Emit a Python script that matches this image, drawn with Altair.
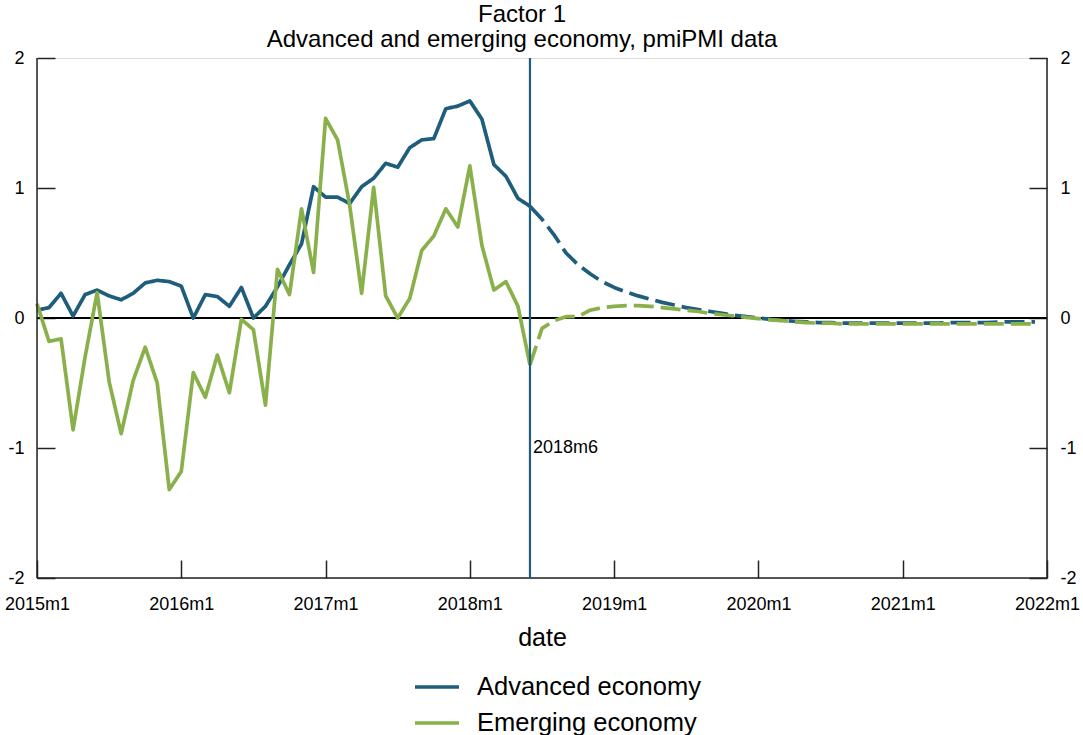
import altair as alt
import pandas as pd

# Months counted from 2015m1 (0) to 2022m1 (84)
months_actual = list(range(0, 42))      # 2015m1 .. 2018m6
months_forecast = list(range(41, 84))   # 2018m6 .. 2021m12

advanced_actual = [
    0.06, 0.08, 0.19, 0.015, 0.18, 0.215, 0.17, 0.14, 0.19, 0.27,
    0.29, 0.28, 0.245, 0.0, 0.18, 0.165, 0.09, 0.235, 0.0, 0.09,
    0.24, 0.41, 0.57, 1.01, 0.93, 0.93, 0.88, 1.01, 1.075, 1.19,
    1.16, 1.31, 1.37, 1.38, 1.61, 1.63, 1.67, 1.53, 1.18, 1.09,
    0.92, 0.86,
]
emerging_actual = [
    0.11, -0.18, -0.16, -0.86, -0.30, 0.195, -0.49, -0.89, -0.48, -0.225,
    -0.50, -1.32, -1.18, -0.42, -0.61, -0.285, -0.575, -0.01, -0.09, -0.67,
    0.375, 0.18, 0.84, 0.35, 1.535, 1.37, 0.87, 0.19, 1.005, 0.17,
    0.0, 0.15, 0.52, 0.63, 0.84, 0.70, 1.17, 0.56, 0.215, 0.28,
    0.09, -0.36,
]
advanced_forecast = [
    0.86, 0.76, 0.64, 0.50, 0.41, 0.34, 0.28, 0.235, 0.20, 0.17,
    0.145, 0.12, 0.10, 0.08, 0.065, 0.05, 0.035, 0.02, 0.01, 0.0,
    -0.01, -0.02, -0.025, -0.03, -0.035, -0.035, -0.04, -0.04, -0.04, -0.04,
    -0.04, -0.04, -0.04, -0.04, -0.04, -0.035, -0.035, -0.035, -0.035, -0.03,
    -0.03, -0.03, -0.03,
]
emerging_forecast = [
    -0.36, -0.08, -0.02, 0.01, 0.01, 0.06, 0.08, 0.09, 0.095, 0.095,
    0.09, 0.08, 0.07, 0.06, 0.05, 0.035, 0.025, 0.015, 0.005, -0.005,
    -0.015, -0.02, -0.03, -0.035, -0.04, -0.04, -0.045, -0.045, -0.045, -0.045,
    -0.045, -0.045, -0.045, -0.045, -0.045, -0.045, -0.045, -0.045, -0.045, -0.045,
    -0.045, -0.045, -0.045,
]

series_names = ["Advanced economy", "Emerging economy"]
series_colors = ["#1f5d7d", "#89b04a"]
segments = ["actual", "forecast"]
year_ticks = [0, 12, 24, 36, 48, 60, 72, 84]
y_ticks = [-2, -1, 0, 1, 2]
x_range = [0, 84]
y_range = [-2, 2]
cutoff_month = 41
cutoff_label = "2018m6"

FONT = "Liberation Sans"
INK = "#222222"

rows = []
for name, seg, months, values in [
    (series_names[0], segments[0], months_actual, advanced_actual),
    (series_names[0], segments[1], months_forecast, advanced_forecast),
    (series_names[1], segments[0], months_actual, emerging_actual),
    (series_names[1], segments[1], months_forecast, emerging_forecast),
]:
    for m, v in zip(months, values):
        rows.append({"month": m, "value": v, "series": name, "segment": seg})
df = pd.DataFrame(rows)

x_scale = alt.Scale(domain=x_range, nice=False, zero=False)
y_scale = alt.Scale(domain=y_range, nice=False, zero=False)

x_axis = alt.Axis(
    values=year_ticks,
    labelExpr="(2015 + datum.value / 12) + 'm1'",
    offset=-18, tickSize=18, tickWidth=1.5, tickColor=INK,
    domain=False, grid=False,
    labelPadding=17, labelFontSize=18, labelFont=FONT, labelColor="black",
    labelFlush=False, labelOverlap=False, labelBound=False,
    title="date", titleFontSize=25, titleFont=FONT, titleFontWeight="normal",
    titleColor="black", titleBaseline="alphabetic", titleY=85,
)


def y_axis(orient):
    return alt.Axis(
        orient=orient, values=y_ticks,
        labelExpr="datum.value < 0 ? '-' + abs(datum.value) : '' + datum.value",
        offset=-18, tickSize=18, tickWidth=1.5, tickColor=INK,
        domain=False, grid=False,
        labelPadding=13, labelFontSize=18, labelFont=FONT, labelColor="black",
        labelFlush=False, labelOverlap=False,
        title=None,
    )


lines = alt.Chart(df).mark_line(strokeWidth=3.7, strokeCap="butt", strokeJoin="round").encode(
    x=alt.X("month:Q", scale=x_scale, axis=x_axis),
    y=alt.Y("value:Q", scale=y_scale, axis=y_axis("left")),
    color=alt.Color(
        "series:N",
        scale=alt.Scale(domain=series_names, range=series_colors),
        legend=alt.Legend(
            orient="none", legendX=376, legendY=616.5, direction="vertical",
            title=None, padding=0,
            symbolType="stroke", symbolSize=1936, symbolStrokeWidth=3.5, symbolOpacity=1,
            labelFontSize=25.5, labelFont=FONT, labelColor="black", labelOffset=16,
            labelLimit=0, clipHeight=25, rowPadding=10,
        ),
    ),
    strokeDash=alt.StrokeDash(
        "segment:N",
        scale=alt.Scale(domain=segments, range=[[1, 0], [20, 7]]),
        legend=None,
    ),
)

# Frame: left and right axis lines, plus the bottom line
frame_df = pd.DataFrame({"month": x_range, "lo": [y_range[0]] * 2, "hi": [y_range[1]] * 2})
frame_sides = alt.Chart(frame_df).mark_rule(color=INK, strokeWidth=1.5).encode(
    x=alt.X("month:Q", scale=x_scale, axis=x_axis),
    y=alt.Y("lo:Q", scale=y_scale, axis=y_axis("right")),
    y2="hi:Q",
)

bottom_df = pd.DataFrame({"x0": [x_range[0]], "x1": [x_range[1]], "y": [y_range[0]]})
frame_bottom = alt.Chart(bottom_df).mark_rule(color=INK, strokeWidth=1.5).encode(
    x=alt.X("x0:Q", scale=x_scale, axis=x_axis),
    x2="x1:Q",
    y=alt.Y("y:Q", scale=y_scale, axis=None),
)

zero_df = pd.DataFrame({"x0": [x_range[0]], "x1": [x_range[1]], "y": [0]})
zero_line = alt.Chart(zero_df).mark_rule(color="black", strokeWidth=2.2).encode(
    x=alt.X("x0:Q", scale=x_scale, axis=x_axis),
    x2="x1:Q",
    y=alt.Y("y:Q", scale=y_scale, axis=None),
)

cut_df = pd.DataFrame({"month": [cutoff_month], "lo": [y_range[0]], "hi": [y_range[1]],
                       "ly": [-1], "label": [cutoff_label]})
cut_line = alt.Chart(cut_df).mark_rule(color=series_colors[0], strokeWidth=2.2).encode(
    x=alt.X("month:Q", scale=x_scale, axis=x_axis),
    y=alt.Y("lo:Q", scale=y_scale, axis=None),
    y2="hi:Q",
)
cut_text = alt.Chart(cut_df).mark_text(
    align="left", baseline="middle", dx=3, fontSize=18, font=FONT, color="black"
).encode(
    x=alt.X("month:Q", scale=x_scale, axis=x_axis),
    y=alt.Y("ly:Q", scale=y_scale, axis=None),
    text="label:N",
)

chart = alt.layer(
    zero_line, lines, frame_sides, frame_bottom, cut_line, cut_text
).resolve_scale(
    y="independent"
).resolve_axis(
    y="independent"
).properties(
    width=1010,
    height=520,
    autosize=alt.AutoSizeParams(type="none"),
    padding={"left": 37, "top": 58, "right": 36, "bottom": 157},
    title=alt.TitleParams(
        text=["Factor 1", "Advanced and emerging economy, pmiPMI data"],
        fontSize=24, font=FONT, fontWeight="normal", color="black",
        anchor="middle", frame="group", baseline="bottom",
        lineHeight=25, offset=5, dx=-20, dy=32,
    ),
).configure_view(
    strokeWidth=0
).configure(
    background="white"
)

chart.save("out.html", embed_options={"renderer": "svg", "actions": False})
